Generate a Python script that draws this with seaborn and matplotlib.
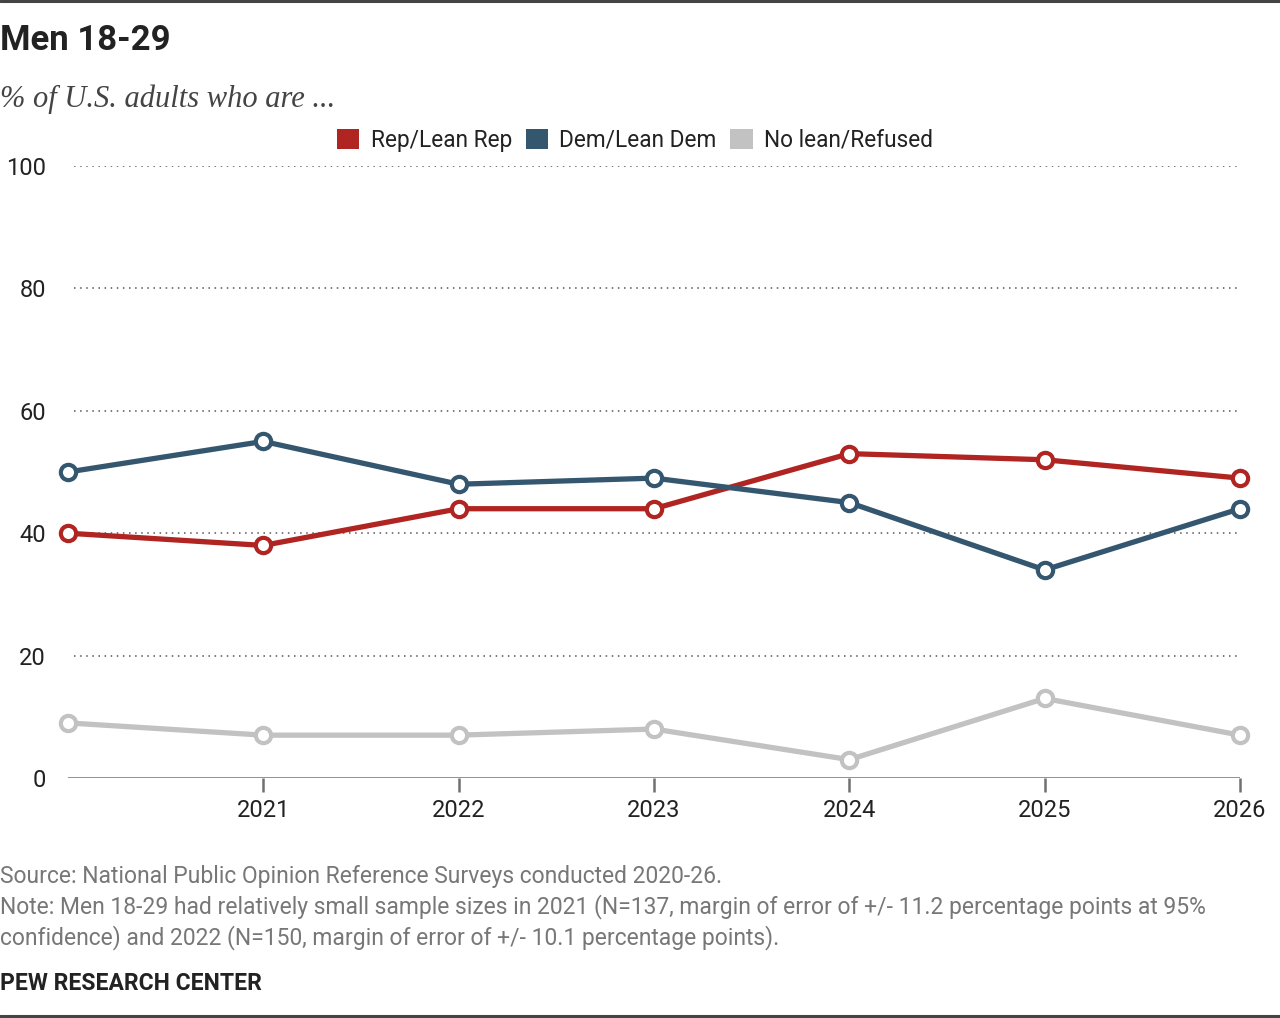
import pandas as pd
import matplotlib.pyplot as plt
import seaborn as sns
from matplotlib.lines import Line2D
from matplotlib.patches import Patch

years = [2020, 2021, 2022, 2023, 2024, 2025, 2026]
rep = [40, 38, 44, 44, 53, 52, 49]
dem = [50, 55, 48, 49, 45, 34, 44]
no_lean = [9, 7, 7, 8, 3, 13, 7]
series_names = ['Rep/Lean Rep', 'Dem/Lean Dem', 'No lean/Refused']
colors = ['#b02421', '#34566f', '#c2c2c2']
x_ticks = [2021, 2022, 2023, 2024, 2025, 2026]
y_ticks = [0, 20, 40, 60, 80, 100]

df = pd.DataFrame({'year': years, series_names[0]: rep,
                   series_names[1]: dem, series_names[2]: no_lean})
long_df = df.melt(id_vars='year', var_name='group', value_name='pct')

sns.set_theme(style='white')
plt.rcParams['font.family'] = ['Roboto', 'DejaVu Sans']

fig = plt.figure(figsize=(12.8, 10.18), dpi=100)
ax = fig.add_axes([68 / 1280, 1 - 778 / 1018, (1240 - 68) / 1280, (778 - 166) / 1018])

# gridlines
for y in y_ticks[1:]:
    ax.axhline(y, xmin=0.005, color='#555555', lw=1.1, ls=(0, (1, 3)), zorder=0)
ax.axhline(0, color='#707070', lw=1.8, zorder=1)

# draw order: gray, rep, dem
order = [series_names[2], series_names[0], series_names[1]]
for name in order:
    sub = long_df[long_df['group'] == name]
    c = colors[series_names.index(name)]
    sns.lineplot(data=sub, x='year', y='pct', ax=ax, color=c, lw=3.8,
                 marker='o', markersize=11, markerfacecolor='white',
                 markeredgecolor=c, markeredgewidth=3.0, clip_on=False,
                 legend=False, zorder=3)
for line in ax.lines:
    line.set_markeredgecolor(line.get_color())

ax.set_xlim(2020, 2026)
ax.set_ylim(0, 100)
ax.set_xticks(x_ticks)
ax.set_xticklabels([str(t) for t in x_ticks])
ax.set_yticks(y_ticks)
ax.tick_params(axis='x', length=10, width=1.8, color='#707070', pad=5,
               labelsize=17, labelcolor='#222222', bottom=True)
ax.tick_params(axis='y', length=0, pad=16, labelsize=17, labelcolor='#222222')
ax.set_xlabel('')
ax.set_ylabel('')
for s in ax.spines.values():
    s.set_visible(False)
ax.set_facecolor('none')

# legend
handles = [Patch(facecolor=c, edgecolor='none') for c in colors]
fig.legend(handles, series_names, loc='center', bbox_to_anchor=(635 / 1280, 1 - 140 / 1018),
           ncol=3, frameon=False, fontsize=16.3, handlelength=1.0, handleheight=1.0,
           handletextpad=0.5, columnspacing=0.6, labelcolor='#222222')

# titles
fig.text(0.0, 1 - 40 / 1018, 'Men 18-29', fontsize=25, fontweight='bold',
         color='#222222', va='center', ha='left')
fig.text(0.0, 1 - 99 / 1018, '% of U.S. adults who are ...', fontsize=22,
         style='italic', family=['Liberation Serif', 'DejaVu Serif'],
         color='#444444', va='center', ha='left')

# notes
fig.text(0.0, 1 - 876 / 1018, 'Source: National Public Opinion Reference Surveys conducted 2020-26.',
         fontsize=16.5, color='#777777', va='center', ha='left')
fig.text(0.0, 1 - 922 / 1018,
         'Note: Men 18-29 had relatively small sample sizes in 2021 (N=137, margin of error of +/- 11.2 percentage points at 95%\n'
         'confidence) and 2022 (N=150, margin of error of +/- 10.1 percentage points).',
         fontsize=16.5, color='#777777', va='center', ha='left', linespacing=1.3)
fig.text(0.0, 1 - 984 / 1018, 'PEW RESEARCH CENTER', fontsize=16.5, fontweight='bold',
         color='#222222', va='center', ha='left')

# top / bottom rules
fig.add_artist(Line2D([0, 1], [1 - 1 / 1018, 1 - 1 / 1018], color='#444444', lw=2.2))
fig.add_artist(Line2D([0, 1], [1 - 1016 / 1018, 1 - 1016 / 1018], color='#444444', lw=2.2))

fig.savefig('out.png', dpi=100)
